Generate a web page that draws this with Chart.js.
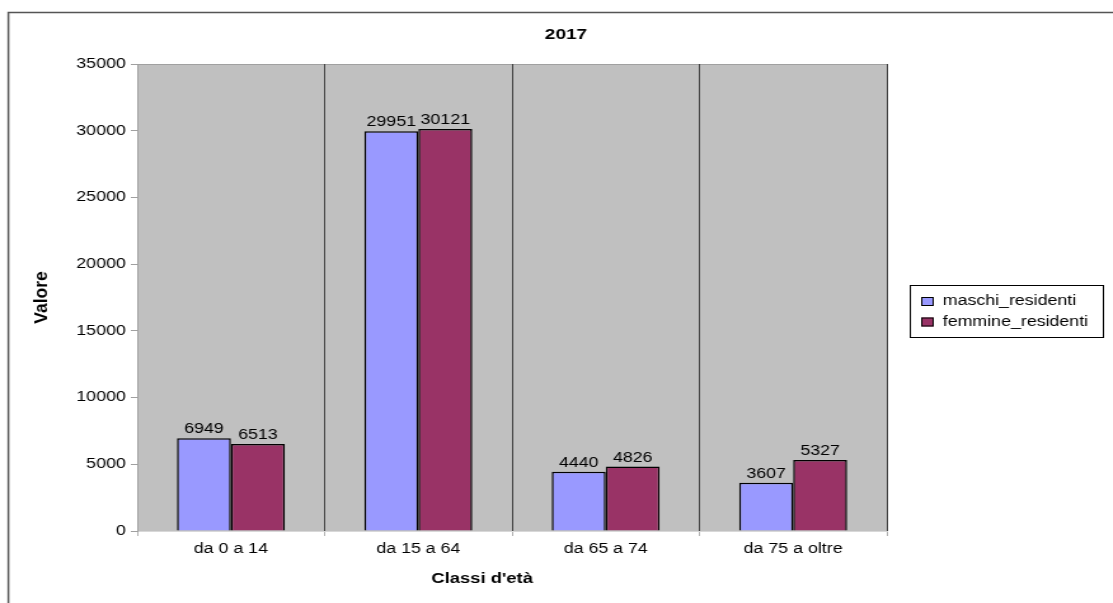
<!DOCTYPE html>
<html>
<head>
<meta charset="utf-8">
<script src="https://cdn.jsdelivr.net/npm/chart.js@4"></script>
<style>
  html, body { margin: 0; padding: 0; background: #fff; overflow: hidden; }
  /* il grafico è disegnato su 876px e allargato in orizzontale */
  #wrap { width: 876px; height: 603px; transform: scaleX(1.2705); transform-origin: 0 0; }
</style>
</head>
<body>
<div id="wrap"><canvas id="chart"></canvas></div>
<script>
// dati
const categorie = ['da 0 a 14', 'da 15 a 64', 'da 65 a 74', 'da 75 a oltre'];
const maschi = [6949, 29951, 4440, 3607];
const femmine = [6513, 30121, 4826, 5327];
const anno = '2017';

const FONT = '"Liberation Sans", Arial, sans-serif';
const STRETCH = 1.2705;

// sfondo grigio, cornice, titoli ed etichette
const decorazioni = {
  id: 'decorazioni',
  beforeDraw(chart) {
    const { ctx, chartArea: a } = chart;
    ctx.save();
    ctx.fillStyle = '#c0c0c0';
    ctx.fillRect(a.left, a.top, a.right - a.left, a.bottom - a.top);
    ctx.strokeStyle = '#a0a0a0';
    ctx.lineWidth = 1;
    ctx.beginPath();
    ctx.moveTo(a.left, a.top + 0.5);
    ctx.lineTo(a.right, a.top + 0.5);
    ctx.stroke();
    // cornice esterna
    ctx.strokeStyle = '#555';
    ctx.lineWidth = 1.5;
    ctx.beginPath();
    ctx.moveTo(6.6, 700);
    ctx.lineTo(6.6, 12.5);
    ctx.lineTo(2000, 12.5);
    ctx.stroke();
    ctx.restore();
  },
  afterDraw(chart) {
    const { ctx, chartArea: a } = chart;
    ctx.save();
    ctx.fillStyle = '#000';
    ctx.textAlign = 'center';
    ctx.textBaseline = 'middle';
    ctx.font = 'bold 15px ' + FONT;
    ctx.fillText(anno, 445.5, 34.5);
    ctx.font = 'bold 14.5px ' + FONT;
    ctx.fillText("Classi d'età", 379.5, 579);
    // titolo asse verticale: compensato per l'allargamento orizzontale
    ctx.save();
    ctx.translate(33, (a.top + a.bottom) / 2);
    ctx.rotate(-Math.PI / 2);
    ctx.scale(1, 1 / STRETCH);
    ctx.font = 'bold 17.5px ' + FONT;
    ctx.fillText('Valore', 0, 0);
    ctx.restore();

    // valori sopra le barre
    ctx.font = '14px ' + FONT;
    ctx.textBaseline = 'alphabetic';
    chart.data.datasets.forEach((ds, i) => {
      chart.getDatasetMeta(i).data.forEach((bar, j) => {
        ctx.fillText(String(ds.data[j]), bar.x, bar.y - 5);
      });
    });

    // legenda
    ctx.fillStyle = '#fff';
    ctx.fillRect(716, 285, 152, 52);
    ctx.strokeStyle = '#000';
    ctx.lineWidth = 1;
    ctx.strokeRect(716.5, 285.5, 152, 52);
    ctx.textAlign = 'left';
    ctx.textBaseline = 'middle';
    chart.data.datasets.forEach((ds, i) => {
      const y = 301.5 + i * 20.5;
      ctx.fillStyle = ds.backgroundColor;
      ctx.fillRect(725, y - 4.5, 10, 9);
      ctx.strokeStyle = '#000';
      ctx.strokeRect(725.5, y - 4, 9, 8);
      ctx.fillStyle = '#000';
      ctx.fillText(ds.label, 742, y);
    });
    ctx.restore();
  }
};

new Chart(document.getElementById('chart'), {
  type: 'bar',
  data: {
    labels: categorie,
    datasets: [
      { label: 'maschi_residenti', data: maschi, backgroundColor: '#9999ff' },
      { label: 'femmine_residenti', data: femmine, backgroundColor: '#993366' }
    ]
  },
  options: {
    responsive: true,
    maintainAspectRatio: false,
    animation: false,
    devicePixelRatio: 1,
    layout: { padding: { top: 64, right: 178, bottom: 0, left: 0 } },
    datasets: {
      bar: { borderColor: '#000', borderWidth: 1.5, barPercentage: 1, categoryPercentage: 0.576 }
    },
    plugins: {
      legend: { display: false },
      title: { display: false },
      tooltip: { enabled: false }
    },
    scales: {
      x: {
        offset: true,
        afterFit(scale) { scale.height = 72; },
        grid: {
          offset: true,
          color: c => c.index === 0 ? 'rgba(0,0,0,0)' : '#404040',
          tickColor: '#b0b0b0',
          tickLength: 5,
          lineWidth: 1
        },
        border: { color: '#d8d8d8' },
        ticks: { color: '#000', padding: 5, font: { family: FONT, size: 14 } }
      },
      y: {
        min: 0,
        max: 35000,
        afterFit(scale) { scale.width = 108; },
        grid: { drawOnChartArea: false, color: '#a0a0a0', tickLength: 5 },
        border: { color: '#a0a0a0' },
        ticks: {
          stepSize: 5000,
          color: '#000',
          padding: 4,
          font: { family: FONT, size: 14 },
          callback: v => String(v)
        }
      }
    }
  },
  plugins: [decorazioni]
});
</script>
</body>
</html>
